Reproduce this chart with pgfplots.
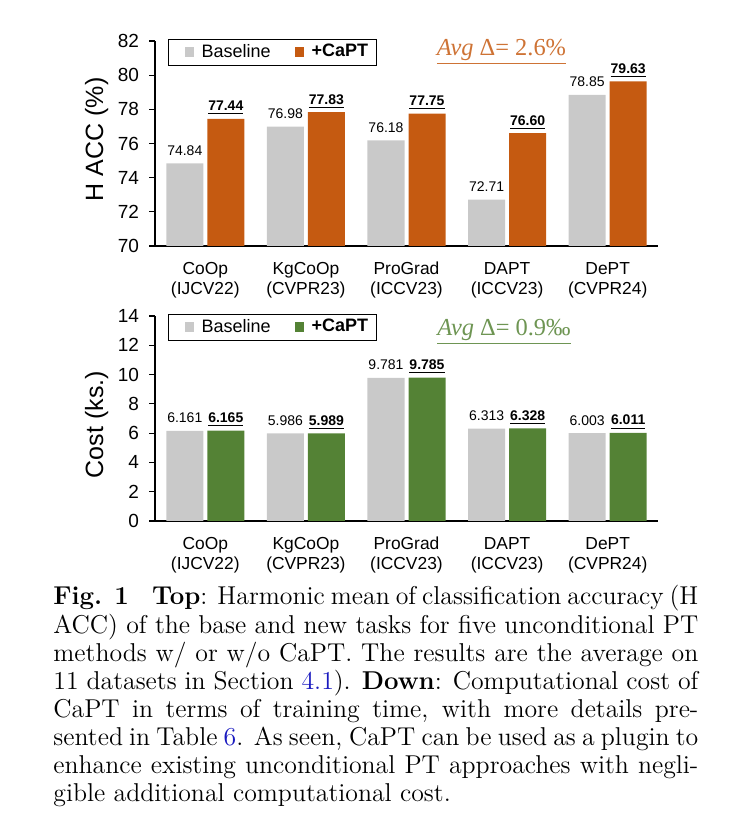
\documentclass[border=0pt]{standalone}
\usepackage{fontspec}
\usepackage{pgfplots}
\pgfplotsset{compat=1.18}
\newfontfamily\arial{Liberation Sans}
\newfontfamily\tnr{Liberation Serif}

\definecolor{capto}{HTML}{C55A11}
\definecolor{captg}{HTML}{548235}
\definecolor{basegray}{HTML}{C9C9C9}
\definecolor{refblue}{rgb}{0.1,0.1,0.75}

% shared look of both panels
\pgfplotsset{
  captpanel/.style={
    width=251.5pt, height=102.5pt, scale only axis,
    anchor=south west,
    xmin=-0.5, xmax=4.5,
    axis x line*=bottom, axis y line*=left,
    axis line style={-},
    x axis line style={line width=1.1pt},
    y axis line style={line width=0.8pt},
    xtick={0,1,2,3,4},
    xticklabels={{CoOp\\(IJCV22)},{KgCoOp\\(CVPR23)},{ProGrad\\(ICCV23)},{DAPT\\(ICCV23)},{DePT\\(CVPR24)}},
    xticklabel style={align=center, font=\arial\fontsize{8.7}{10}\selectfont, yshift=-1.5pt},
    x tick style={draw=none},
    y tick style={black, line width=0.6pt},
    tick align=outside,
    major tick length=3pt,
    yticklabel style={font=\arial\fontsize{9.5}{11}\selectfont, xshift=-1.5pt},
    /pgf/number format/assume math mode=true,
    ybar, bar width=18.5pt,
    legend columns=2,
    legend style={at={(0.026,1.012)}, anchor=north west, draw=black, line width=0.6pt,
      font=\arial\fontsize{9}{10}\selectfont, inner xsep=2pt, inner ysep=0.5pt,
      /tikz/every even column/.append style={column sep=4pt}},
    legend cell align=left,
    legend image code/.code={\path (0pt,0pt) (12.5pt,0pt); \fill[##1] (6pt,-2.4pt) rectangle (10.8pt,2.4pt);},
  },
  baselab/.style={nodes near coords={\pgfmathprintnumber[fixed,zerofill,precision=#1]{\pgfplotspointmeta}},
    nodes near coords style={font=\arial\fontsize{7}{8}\selectfont, anchor=base, yshift=4pt, inner sep=0pt, text=black}},
  captlab/.style={nodes near coords={\underline{\textbf{\pgfmathprintnumber[fixed,zerofill,precision=#1]{\pgfplotspointmeta}}}},
    nodes near coords style={font=\arial\fontsize{7}{8}\selectfont, anchor=base, yshift=4pt, inner sep=0pt, text=black}},
}

\begin{document}
\begin{tikzpicture}[x=1pt,y=1pt]
\path[use as bounding box] (0,0) rectangle (377.5,420);

% top panel: H ACC
\begin{axis}[captpanel, at={(77.5pt,297pt)},
    ymin=70, ymax=82, ytick={70,72,...,82},
    ylabel={H ACC (\%)},
    ylabel style={at={(axis description cs:-0.116,0.52)}, anchor=center, font=\arial\fontsize{12.5}{14}\selectfont}]
  \addplot[fill=basegray, draw=none, bar shift=-10.25pt, baselab=2]
    coordinates {(0,74.84) (1,76.98) (2,76.18) (3,72.71) (4,78.85)};
  \addplot[fill=capto, draw=none, bar shift=10.25pt, captlab=2]
    coordinates {(0,77.44) (1,77.83) (2,77.75) (3,76.60) (4,79.63)};
  \legend{Baseline,\textbf{+CaPT}}
\end{axis}
\node[font=\tnr\fontsize{12.2}{13}\selectfont, text=capto!85!white] at (250.75pt,394pt) {\underline{\textit{Avg} Δ= 2.6\%}};

% bottom panel: cost
\begin{axis}[captpanel, at={(77.5pt,159.5pt)},
    ymin=0, ymax=14, ytick={0,2,...,14},
    ylabel={Cost (ks.)},
    ylabel style={at={(axis description cs:-0.116,0.47)}, anchor=center, font=\arial\fontsize{12.5}{14}\selectfont}]
  \addplot[fill=basegray, draw=none, bar shift=-10.25pt, baselab=3]
    coordinates {(0,6.161) (1,5.986) (2,9.781) (3,6.313) (4,6.003)};
  \addplot[fill=captg, draw=none, bar shift=10.25pt, captlab=3]
    coordinates {(0,6.165) (1,5.989) (2,9.785) (3,6.328) (4,6.011)};
  \legend{Baseline,\textbf{+CaPT}}
\end{axis}
\node[font=\tnr\fontsize{12.2}{13}\selectfont, text=captg!85!white] at (252pt,254pt) {\underline{\textit{Avg} Δ= 0.9‰}};

% caption
\node[anchor=base west, inner sep=0pt] at (26.5pt,117.5pt) {\parbox[t]{322.5pt}{%
  \fontsize{12.9}{14.07}\selectfont\tolerance=10000\hyphenpenalty=10000\parindent=0pt
  \textbf{Fig. 1}\hspace{0.9em}\textbf{Top}: Harmonic mean of classification accuracy (H\linebreak
  ACC) of the base and new tasks for five unconditional PT\linebreak
  methods w/ or w/o CaPT. The results are the average on\linebreak
  11 datasets in Section \textcolor{refblue}{4.1}). \textbf{Down}: Computational cost of\linebreak
  CaPT in terms of training time, with more details pre-\linebreak
  sented in Table \textcolor{refblue}{6}. As seen, CaPT can be used as a plugin to\linebreak
  enhance existing unconditional PT approaches with negli-\linebreak
  gible additional computational cost.}};
\end{tikzpicture}
\end{document}
